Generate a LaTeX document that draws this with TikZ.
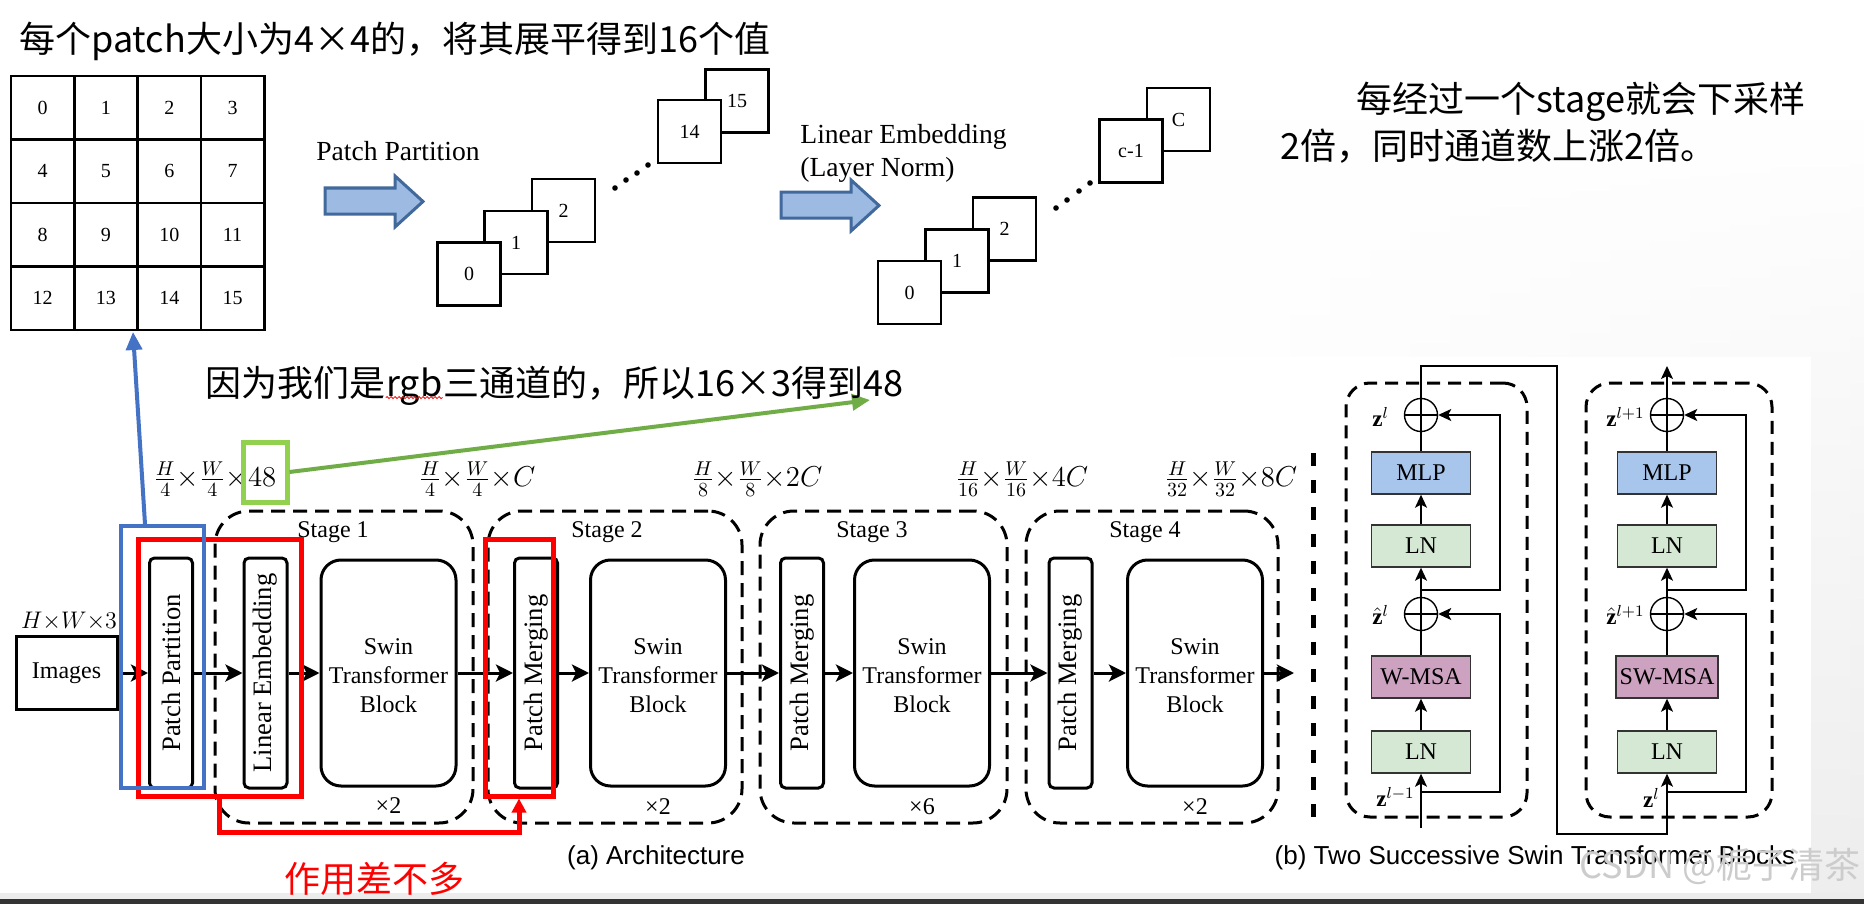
\documentclass[tikz,border=0pt]{standalone}
\usepackage{fontspec}
\setmainfont{Liberation Serif}
\newfontfamily\cjk{Noto Sans CJK SC}
\newfontfamily\arialf{Liberation Sans}
\usetikzlibrary{arrows.meta,decorations.pathmorphing,calc,fadings}
\definecolor{arrowfill}{RGB}{157,187,226}
\definecolor{arrowedge}{RGB}{65,105,155}
\definecolor{mlpc}{RGB}{168,197,235}
\definecolor{lnc}{RGB}{213,232,212}
\definecolor{msac}{RGB}{205,162,192}
\definecolor{grnbox}{RGB}{146,208,80}
\definecolor{grnarr}{RGB}{112,173,71}
\definecolor{bluean}{RGB}{68,114,196}
\begin{document}
\begin{tikzpicture}[x=0.5pt,y=-0.5pt,
  cell/.style={draw, line width=1.3pt, minimum width=31.65pt, minimum height=31.75pt, inner sep=0, font=\fontsize{10}{12}\selectfont},
  sq/.style={draw, fill=white, line width=1.3pt, minimum size=31.5pt, inner sep=0, font=\fontsize{10}{12}\selectfont},
  cjktext/.style={font=\cjk\fontsize{18}{22}\selectfont, inner sep=0},
  thinbox/.style={draw, line width=1.5pt, rounded corners=2.5pt, minimum width=21.5pt, minimum height=115pt, inner sep=0},
  rottext/.style={rotate=90, inner sep=0, font=\fontsize{13.3}{15}\selectfont},
  swin/.style={draw, line width=1.5pt, rounded corners=10pt, minimum width=67.5pt, minimum height=113pt, align=center, font=\fontsize{12}{14.5}\selectfont},
  stagebox/.style={draw, dash pattern=on 7pt off 4pt, line width=1.5pt, rounded corners=17pt, minimum height=156pt, inner sep=0},
  bstage/.style={draw, dash pattern=on 6.5pt off 4pt, line width=1.5pt, rounded corners=12pt, minimum height=217pt, inner sep=0},
  flow/.style={line width=1.5pt, -{Stealth[length=8.5pt,width=8.5pt,inset=2pt]}},
  blk/.style={draw=black!80, line width=0.7pt, minimum width=49.5pt, minimum height=21pt, inner sep=0, font=\fontsize{12}{14}\selectfont},
  plus/.style={circle, draw, line width=0.7pt, minimum size=16.5pt, inner sep=0,
    path picture={\draw[line width=0.7pt] (path picture bounding box.north) -- (path picture bounding box.south) (path picture bounding box.west) -- (path picture bounding box.east);}},
  sarr/.style={line width=0.7pt, -{Stealth[length=6.5pt,width=6pt,inset=1.5pt]}},
  sline/.style={line width=0.7pt},
  zl/.style={inner sep=0, font=\fontsize{11.5}{13}\selectfont},
  lbl/.style={inner sep=0, font=\fontsize{12}{14}\selectfont},
  mathlbl/.style={inner sep=0, font=\fontsize{14}{16}\selectfont},
  fatarrow/.style={fill=arrowfill, draw=arrowedge, line width=1.5pt, line join=miter}
]
\useasboundingbox (0,0) rectangle (1864,904);
% background
\fill[white] (0,0) rectangle (1864,904);
\shade[left color=white, right color=gray!14, path fading=north] (1150,120) rectangle (1864,904);
\fill[white] (0,357) rectangle (1811,893);
\fill[gray!15] (0,893) rectangle (1864,899);
\fill[black!80] (0,899) rectangle (1864,904);

% ===== top part =====
\node[cjktext, anchor=base west] (title) at (19,53) {每个patch大小为4×4的，将其展平得到16个值};
\foreach \n in {0,...,15} {
  \pgfmathtruncatemacro\col{mod(\n,4)}
  \pgfmathtruncatemacro\row{div(\n,4)}
  \node[cell] (c\n) at ({11+63.3*(\col+0.5)}, {76+63.5*(\row+0.5)}) {\n};
}
\node[inner sep=0, font=\fontsize{13.8}{16}\selectfont] (pptop) at (398,151) {Patch Partition};
\filldraw[fatarrow] (325,188) -- (395,188) -- (395,176) -- (423,201.5) -- (395,227) -- (395,214) -- (325,214) -- cycle;
\node[sq] (s2) at (563.5,210.5) {2};
\node[sq] (s1) at (516,242.5) {1};
\node[sq] (s0) at (469,274) {0};
\node[sq] (s15) at (737,101) {15};
\node[sq] (s14) at (689.5,131.5) {14};
\foreach \p in {(615,188),(626,180),(637,173),(648,165)} \fill \p circle[radius=1.4pt];

\node[inner sep=0, anchor=west, align=left, font=\fontsize{13.8}{16.5}\selectfont] (letop) at (800,153) {Linear Embedding\\(Layer Norm)};
\filldraw[fatarrow] (781,192) -- (851,192) -- (851,180) -- (879,205.5) -- (851,231) -- (851,218) -- (781,218) -- cycle;
\node[sq] (t2) at (1004.5,229) {2};
\node[sq] (t1) at (957,261) {1};
\node[sq] (t0) at (909.5,292.5) {0};
\node[sq] (tC) at (1178.5,119.5) {C};
\node[sq] (tc1) at (1131,151) {c-1};
\foreach \p in {(1056,208),(1067,200),(1079,191),(1090,183)} \fill \p circle[radius=1.4pt];

\node[cjktext, anchor=base west] (rt1) at (1356,113) {每经过一个stage就会下采样};
\node[cjktext, anchor=base west] (rt2) at (1280,160) {2倍，同时通道数上涨2倍。};

% ===== (a) architecture =====
\node[stagebox, minimum width=129pt] (st1) at (344,667) {};
\node[stagebox, minimum width=127pt] (st2) at (615,667) {};
\node[stagebox, minimum width=123.5pt] (st3) at (883.5,667) {};
\node[stagebox, minimum width=126pt] (st4) at (1152,667) {};
\node[lbl] (st1l) at (333,532) {Stage 1};
\node[lbl] (st2l) at (607,532) {Stage 2};
\node[lbl] (st3l) at (872,532) {Stage 3};
\node[lbl] (st4l) at (1145,532) {Stage 4};

\node[draw, line width=1.5pt, minimum width=50.5pt, minimum height=36.5pt, inner sep=0, font=\fontsize{12}{14}\selectfont] (img) at (66.5,673) {Images};
\node[inner sep=0, font=\fontsize{13}{15}\selectfont] (hw3) at (69,621) {$H{\times}W{\times}3$};

\node[thinbox] (pp) at (171,673) {};
\node[rottext] (ppt) at (pp) {Patch Partition};
\node[thinbox] (le) at (265.5,673) {};
\node[rottext] (let) at (le) {Linear Embedding};
\node[thinbox] (pm2) at (536,673) {};
\node[rottext] (pm2t) at (pm2) {Patch Merging};
\node[thinbox] (pm3) at (802,673) {};
\node[rottext] (pm3t) at (pm3) {Patch Merging};
\node[thinbox] (pm4) at (1070.5,673) {};
\node[rottext] (pm4t) at (pm4) {Patch Merging};

\node[swin] (sw1) at (388.5,673) {};
\node[swin] (sw2) at (658,673) {};
\node[swin] (sw3) at (922,673) {};
\node[swin] (sw4) at (1195,673) {};
\foreach \s in {sw1,sw2,sw3,sw4}
  \node[inner sep=0, align=center, font=\fontsize{12}{14.5}\selectfont] (\s t) at ($(\s.center)+(0,3)$) {Swin\\Transformer\\Block};
\node[lbl] (x1) at ($(sw1.south)+(0,18)$) {×2};
\node[lbl] (x2) at ($(sw2.south)+(0,19)$) {×2};
\node[lbl] (x3) at ($(sw3.south)+(0,19)$) {×6};
\node[lbl] (x4) at ($(sw4.south)+(0,19)$) {×2};
\coordinate (aout) at (1294,673);

\draw[flow] (img.east) -- (pp.west);
\draw[flow] (pp.east) -- (le.west);
\draw[flow] (le.east) -- (sw1.west);
\draw[flow] (sw1.east) -- (pm2.west);
\draw[flow] (pm2.east) -- (sw2.west);
\draw[flow] (sw2.east) -- (pm3.west);
\draw[flow] (pm3.east) -- (sw3.west);
\draw[flow] (sw3.east) -- (pm4.west);
\draw[flow] (pm4.east) -- (sw4.west);
\draw[flow] (sw4.east) -- (aout);

\node[mathlbl] (d1) at (215,479) {$\frac{H}{4}{\times}\frac{W}{4}{\times}48$};
\node[mathlbl] (d2) at (477,479) {$\frac{H}{4}{\times}\frac{W}{4}{\times}C$};
\node[mathlbl] (d3) at (757,479) {$\frac{H}{8}{\times}\frac{W}{8}{\times}2C$};
\node[mathlbl] (d4) at (1022,479) {$\frac{H}{16}{\times}\frac{W}{16}{\times}4C$};
\node[mathlbl] (d5) at (1231,479) {$\frac{H}{32}{\times}\frac{W}{32}{\times}8C$};

\node[inner sep=0, font=\arialf\fontsize{13}{15}\selectfont] (capa) at (656,858) {(a) Architecture};

% separator
\draw[line width=2.5pt, dash pattern=on 6.5pt off 7pt] (1313,453) -- (1313,822);

% ===== (b) blocks =====
\node[bstage, minimum width=90.5pt] (bl) at (1436.5,600) {};
\node[bstage, minimum width=93pt] (br) at (1679,600) {};

\node[blk, fill=mlpc] (mlpL) at (1421,473) {MLP};
\node[blk, fill=lnc] (ln2L) at (1421,546) {LN};
\node[blk, fill=msac] (msaL) at (1421,677) {W-MSA};
\node[blk, fill=lnc] (ln1L) at (1421,752) {LN};
\node[plus] (p2L) at (1421,415) {};
\node[plus] (p1L) at (1421,614) {};

\node[blk, fill=mlpc] (mlpR) at (1667,473) {MLP};
\node[blk, fill=lnc] (ln2R) at (1667,546) {LN};
\node[blk, fill=msac, minimum width=51pt] (msaR) at (1667,677) {SW-MSA};
\node[blk, fill=lnc] (ln1R) at (1667,752) {LN};
\node[plus] (p2R) at (1667,415) {};
\node[plus] (p1R) at (1667,614) {};

\coordinate (inL) at (1421,828);
\coordinate (r1L) at (1421,792);
\coordinate (r2L) at (1421,590);
\coordinate (r1R) at (1667,792);
\coordinate (r2R) at (1667,590);
\coordinate (outR) at (1667,366);
\coordinate (topL) at (1421,366);
\coordinate (jumpT) at (1557,366);
\coordinate (jumpB) at (1557,834);

\draw[sarr] (inL) -- (ln1L.south);
\draw[sarr] (ln1L.north) -- (msaL.south);
\draw[sline] (msaL.north) -- (p1L.south);
\draw[sarr] (p1L.north) -- (ln2L.south);
\draw[sarr] (ln2L.north) -- (mlpL.south);
\draw[sline] (mlpL.north) -- (p2L.south);
\draw[sarr] (r1L) -- ++(79,0) |- (p1L.east);
\draw[sarr] (r2L) -- ++(79,0) |- (p2L.east);
\draw[sarr] (p2L.north) -- (topL) -- (jumpT) -- (jumpB) -| (ln1R.south);

\draw[sarr] (ln1R.north) -- (msaR.south);
\draw[sline] (msaR.north) -- (p1R.south);
\draw[sarr] (p1R.north) -- (ln2R.south);
\draw[sarr] (ln2R.north) -- (mlpR.south);
\draw[sline] (mlpR.north) -- (p2R.south);
\draw[sarr] (r1R) -- ++(79,0) |- (p1R.east);
\draw[sarr] (r2R) -- ++(79,0) |- (p2R.east);
\draw[sarr] (p2R.north) -- (outR);

\node[zl, anchor=west] (zl1) at (1372,417) {$\mathbf{z}^{l}$};
\node[zl, anchor=west] (zl2) at (1372,615) {$\hat{\mathbf{z}}^{l}$};
\node[zl, anchor=east] (zl3) at (1415,797) {$\mathbf{z}^{l-1}$};
\node[zl, anchor=west] (zr1) at (1606,417) {$\mathbf{z}^{l+1}$};
\node[zl, anchor=west] (zr2) at (1606,615) {$\hat{\mathbf{z}}^{l+1}$};
\node[zl, anchor=east] (zr3) at (1660,798) {$\mathbf{z}^{l}$};

\node[inner sep=0, font=\arialf\fontsize{13}{15}\selectfont] (capb) at (1535,858) {(b) Two Successive Swin Transformer Blocks};

% ===== annotations =====
\node[draw=red, line width=2.5pt, minimum width=81.5pt, minimum height=128.5pt, inner sep=0] (red1) at (219.5,667.5) {};
\node[draw=red, line width=2.5pt, minimum width=34pt, minimum height=128.5pt, inner sep=0] (red2) at (519,667.5) {};
\draw[red, line width=2.5pt, -{Triangle[length=7pt,width=7pt]}] (red1.south) -- ++(0,34) -| (red2.south);
\node[cjktext, text=red, anchor=base] (same) at (374,892) {作用差不多};

\node[draw=bluean, line width=2pt, minimum width=41.5pt, minimum height=131pt, inner sep=0] (blueb) at (162.5,657) {};
\coordinate (btip) at (133,332);
\draw[bluean, line width=2pt, -{Triangle[length=9pt,width=8pt]}] ($(blueb.north west)+(26,0)$) -- (btip);

\node[draw=grnbox, line width=2.5pt, minimum width=22pt, minimum height=30pt, inner sep=0] (greenb) at (265,472) {};
\coordinate (gtip) at (870,400);
\draw[grnarr, line width=2pt, -{Triangle[length=9pt,width=8pt]}] (greenb.east) -- (gtip);

\node[cjktext, anchor=base west] (g1) at (205,396) {因为我们是};
\node[cjktext, anchor=base west] (g2) at (g1.base east) {rgb};
\node[cjktext, anchor=base west] (g3) at (g2.base east) {三通道的，所以16×3得到48};
\draw[red, line width=0.4pt, decorate, decoration={snake, amplitude=0.5pt, segment length=2pt}] ([yshift=-0.8pt]g2.base west) -- ([yshift=-0.8pt]g2.base east);

\node[inner sep=0, text=gray!40, font=\cjk\fontsize{18}{22}\selectfont] (wm) at (1720,866) {CSDN @栀子清茶};
\end{tikzpicture}
\end{document}
